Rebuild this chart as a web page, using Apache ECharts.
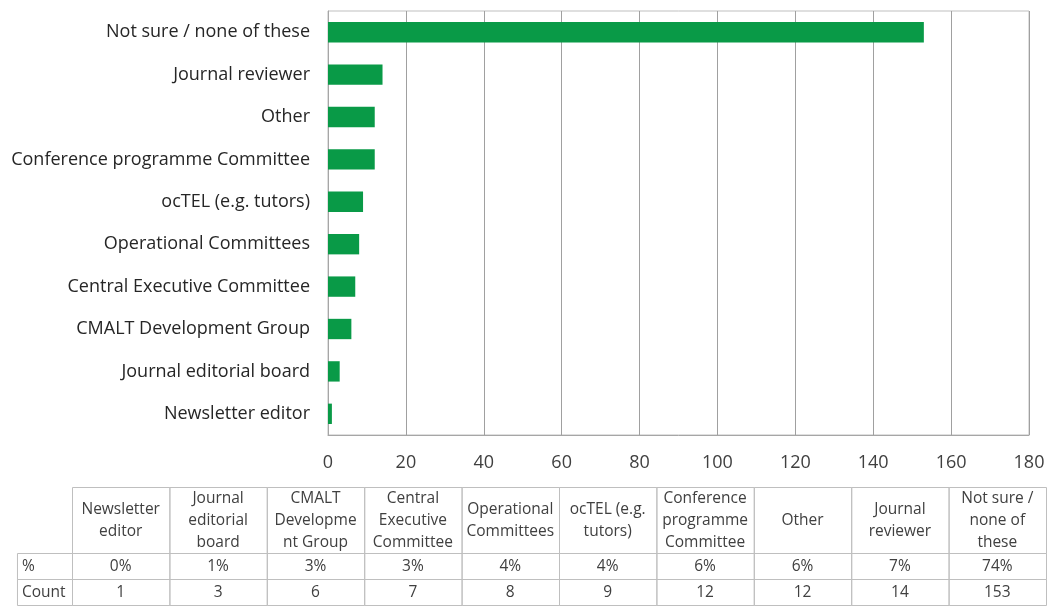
<!DOCTYPE html>
<html>
<head>
<meta charset="utf-8">
<script src="https://cdn.jsdelivr.net/npm/echarts@6/dist/echarts.min.js"></script>
<style>
html,body{margin:0;padding:0;background:#fff;}
#chart{width:1048px;height:607px;}
</style>
</head>
<body>
<div id="chart"></div>
<script>
// Categories bottom-to-top (also the table's left-to-right order)
const categories = ['Newsletter editor','Journal editorial board','CMALT Development Group','Central Executive Committee','Operational Committees','ocTEL (e.g. tutors)','Conference programme Committee','Other','Journal reviewer','Not sure / none of these'];
const counts = [1, 3, 6, 7, 8, 9, 12, 12, 14, 153];
const tableHeaders = ['Newsletter\neditor','Journal\neditorial\nboard','CMALT\nDevelopme\nnt Group','Central\nExecutive\nCommittee','Operational\nCommittees','ocTEL (e.g.\ntutors)','Conference\nprogramme\nCommittee','Other','Journal\nreviewer','Not sure /\nnone of\nthese'];
const percents = ['0%','1%','3%','3%','4%','4%','6%','6%','7%','74%'];
const rowLabels = ['%', 'Count'];
const xTicks = {min: 0, max: 180, interval: 20};

const chart = echarts.init(document.getElementById('chart'), null, {renderer: 'canvas'});
const FONT = '"Open Sans", "Noto Sans", sans-serif';
const lineColor = '#bfbfbf';
const textColor = '#404040';

// Table row boundaries (in table-grid y units = px)
const rowY = [0, 66, 92, 118];

function renderCell(params, api) {
  const i = api.value(0);
  const children = [];
  const pL = api.coord([i, 0])[0];
  const pR = api.coord([i + 1, 0])[0];
  const ys = rowY.map(v => api.coord([0, v])[1]);
  const stroke = {stroke: lineColor, lineWidth: 1, fill: null};
  const cx = (pL + pR) / 2;
  const font = '15.5px ' + FONT;
  children.push({type: 'rect', shape: {x: pL + 0.5, y: ys[0] + 0.5, width: pR - pL, height: ys[1] - ys[0]}, style: stroke, silent: true});
  children.push({type: 'text', style: {text: tableHeaders[i], x: cx, y: (ys[0] + ys[1]) / 2 + 1, align: 'center', verticalAlign: 'middle', font: font, fill: textColor, lineHeight: 22}});
  const vals = [percents[i], String(counts[i])];
  for (let r = 0; r < 2; r++) {
    children.push({type: 'rect', shape: {x: pL + 0.5, y: ys[r + 1] + 0.5, width: pR - pL, height: ys[r + 2] - ys[r + 1]}, style: stroke, silent: true});
    children.push({type: 'text', style: {text: vals[r], x: cx, y: (ys[r + 1] + ys[r + 2]) / 2 + 1, align: 'center', verticalAlign: 'middle', font: font, fill: textColor}});
  }
  if (i === 0) {
    const lL = api.coord([-0.565, 0])[0];
    for (let r = 0; r < 2; r++) {
      children.push({type: 'rect', shape: {x: lL + 0.5, y: ys[r + 1] + 0.5, width: pL - lL, height: ys[r + 2] - ys[r + 1]}, style: stroke, silent: true});
      children.push({type: 'text', style: {text: rowLabels[r], x: lL + 5, y: (ys[r + 1] + ys[r + 2]) / 2 + 1, align: 'left', verticalAlign: 'middle', font: font, fill: textColor}});
    }
  }
  return {type: 'group', children: children};
}

const option = {
  animation: false,
  backgroundColor: '#ffffff',
  grid: [
    {left: 328, right: 19, top: 11, bottom: 172, show: true, borderColor: lineColor, borderWidth: 1},
    {left: 72, right: 2, top: 487, height: 120}
  ],
  xAxis: [
    {
      type: 'value', gridIndex: 0, min: xTicks.min, max: xTicks.max, interval: xTicks.interval,
      axisLine: {show: true, lineStyle: {color: '#a6a6a6'}},
      axisTick: {show: false},
      axisLabel: {color: textColor, fontSize: 18, fontFamily: FONT, margin: 19},
      splitLine: {show: true, lineStyle: {color: '#a0a0a0', width: 1}}
    },
    {type: 'value', gridIndex: 1, min: 0, max: 10, show: false}
  ],
  yAxis: [
    {
      type: 'category', gridIndex: 0, data: categories,
      axisLine: {show: true, lineStyle: {color: '#a6a6a6'}},
      axisTick: {show: false},
      axisLabel: {color: '#262626', fontSize: 18, fontFamily: FONT, margin: 18}
    },
    {type: 'value', gridIndex: 1, min: 0, max: 120, inverse: true, show: false}
  ],
  series: [
    {
      type: 'bar', xAxisIndex: 0, yAxisIndex: 0, data: counts,
      barWidth: '48%',
      itemStyle: {color: '#099A47'}
    },
    {
      type: 'custom', xAxisIndex: 1, yAxisIndex: 1,
      data: categories.map((c, i) => [i]),
      renderItem: renderCell,
      clip: false,
      silent: true
    }
  ]
};
chart.setOption(option);
</script>
</body>
</html>
